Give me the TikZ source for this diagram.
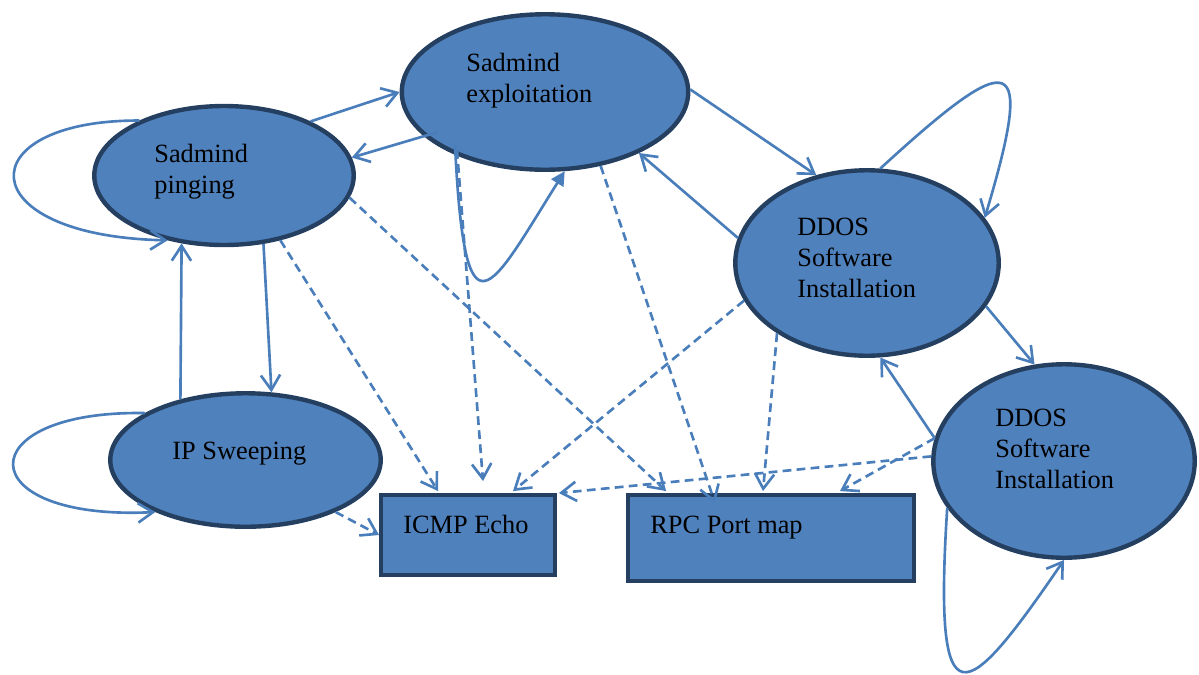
\documentclass[tikz,border=0pt]{standalone}
\usepackage{fontspec}
\setmainfont{Liberation Serif}
\usetikzlibrary{arrows.meta,shapes.geometric,calc}
\definecolor{nodefill}{HTML}{4F81BD}
\definecolor{nodeline}{HTML}{243F60}
\definecolor{edgecol}{HTML}{4A7EBB}
\begin{document}
\begin{tikzpicture}[x=0.02cm,y=-0.02cm,
  stnode/.style={ellipse, draw=nodeline, fill=nodefill, line width=2.5pt, inner sep=0pt},
  evbox/.style={rectangle, draw=nodeline, fill=nodefill, line width=2.5pt, inner sep=0pt},
  lbl/.style={inner sep=0pt, anchor=base west, align=left, font=\fontsize{15}{17.5}\selectfont},
  flow/.style={draw=edgecol, line width=1.5pt, -{Straight Barb[length=8.5pt,width=11pt]}},
  obs/.style={flow, dash pattern=on 5pt off 3pt},
  selfloop/.style={draw=edgecol, line width=1.5pt, -{Triangle[length=8pt,width=8pt]}}]
\useasboundingbox (0,0) rectangle (1199,674);

% states
\node[stnode, minimum width=5.19cm, minimum height=2.78cm] (ping) at (224,175.5) {};
\node[stnode, minimum width=5.73cm, minimum height=3.11cm] (expl) at (545,92) {};
\node[stnode, minimum width=5.27cm, minimum height=3.71cm] (ddosa) at (867,263) {};
\node[stnode, minimum width=5.23cm, minimum height=3.87cm] (ddosb) at (1064,461) {};
\node[stnode, minimum width=5.41cm, minimum height=2.67cm] (ipsw) at (245.5,460) {};
% observations
\node[evbox, minimum width=3.47cm, minimum height=1.59cm] (icmp) at (468,535) {};
\node[evbox, minimum width=5.71cm, minimum height=1.71cm] (rpc) at (771,538) {};

% solid transitions
\draw[flow] (ping.147.5) .. controls (-32,120) and (-32,236) .. (ping.229);
\draw[flow] (ping.32.8) -- (expl.180);
\draw[flow] ($(expl.center)+(-107,40)$) -- (ping.8);
\draw[selfloop] ($(expl.center)+(-90,53)$) .. controls (465,350) and (490,290) .. (expl.-76.7);
\draw[flow] (expl.1) -- (ddosa.120);
\draw[flow] (ddosa.169.7) -- (expl.-33);
\draw[flow] (ddosa.82.9) .. controls (1015,45) and (1035,50) .. (ddosa.21.3);
\draw[flow] (ddosa.-20) -- (ddosb.107.7);
\draw[flow] (ddosb.170) -- (ddosa.-82.7);
\draw[flow] (ddosb.-158.4) .. controls (933,730) and (965,705) .. (ddosb.-90);
\draw[flow] (ping.-60.3) -- (ipsw.69.3);
\draw[flow] (ipsw.137) -- (ping.-122);
\draw[flow] (ipsw.155.4) .. controls (-32,410) and (-32,521) .. (ipsw.210.5);

% dashed observations
\draw[obs] (ipsw.-30) -- (icmp.west);
\draw[obs] (ping.-49) -- ($(icmp.north)+(-30,-2)$);
\draw[obs] (ping.-10.6) -- ($(rpc.north west)+(40,-2)$);
\draw[obs] ($(expl.center)+(-88,58)$) -- ($(icmp.north)+(15,-12)$);
\draw[obs] (expl.-53) -- ($(rpc.north)+(-56,10)$);
\draw[obs] (ddosa.-163.5) -- ($(icmp.north)+(45,-2)$);
\draw[obs] (ddosa.-142.8) -- ($(rpc.north)+(-8,-2)$);
\draw[obs] (ddosb.178) -- ($(icmp.north east)+(2,0)$);
\draw[obs] (ddosb.170) -- ($(rpc.north)+(69,-2)$);

% labels (base = baseline of the last line)
\node[lbl] (pingtxt) at (154,193) {Sadmind\\pinging};
\node[lbl] (expltxt) at (466,102) {Sadmind\\exploitation};
\node[lbl] (ddosatxt) at (797,297) {DDOS\\Software\\Installation};
\node[lbl] (ddosbtxt) at (995,488) {DDOS\\Software\\Installation};
\node[lbl] (ipswtxt) at (172,459) {IP Sweeping};
\node[lbl] (icmptxt) at (403,533) {ICMP Echo};
\node[lbl] (rpctxt) at (650,533) {RPC Port map};
\end{tikzpicture}
\end{document}
